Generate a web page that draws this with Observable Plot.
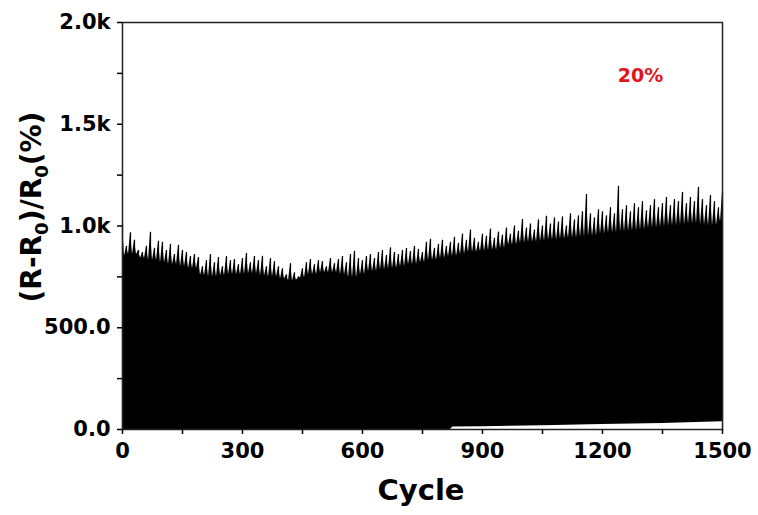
<!DOCTYPE html>
<html><head><meta charset="utf-8">
<script src="https://cdn.jsdelivr.net/npm/d3@7"></script>
<script src="https://cdn.jsdelivr.net/npm/@observablehq/plot@0.6"></script>
<style>body{margin:0;background:#fff} svg{display:block}</style>
</head><body><div id="chart"></div><script>
// Peak values of (R-R0)/R0 (%) every 10 cycles, from cycle 0 to 1500
const peakStep = 10;
const peakValues = [
  1010, 900, 967, 930, 880, 870, 900, 969, 890, 925, 920, 880, 910, 860, 905, 880, 870, 850, 860, 845,
  800, 830, 860, 820, 845, 800, 850, 830, 835, 810, 840, 865, 820, 850, 830, 851, 800, 840, 825, 800,
  790, 760, 815, 770, 750, 790, 820, 835, 810, 830, 825, 800, 840, 815, 835, 850, 820, 860, 876, 840,
  830, 850, 860, 840, 870, 880, 855, 893, 870, 860, 880, 890, 875, 900, 885, 870, 920, 935, 890, 910,
  930, 900, 920, 945, 915, 960, 930, 980, 940, 920, 960, 950, 985, 940, 970, 955, 990, 960, 1000, 975,
  1032, 990, 1010, 980, 1030, 1000, 1048, 1010, 1040, 1020, 1045, 1000, 1060, 1030, 1050, 1070, 1155, 1060, 1040, 1080,
  1070, 1050, 1090, 1060, 1195, 1080, 1100, 1070, 1110, 1090, 1120, 1075, 1100, 1130, 1090, 1110, 1140, 1100, 1130, 1120,
  1165, 1110, 1140, 1120, 1190, 1130, 1100, 1150, 1120, 1090, 1165
];
// Solid (dense) level every 25 cycles
const baseStep = 25;
const baseValues = [
  850, 860, 840, 830, 820, 810, 800, 790, 755, 750, 755, 760, 760, 765, 755, 750, 740, 730, 745, 760,
  770, 770, 760, 745, 760, 775, 785, 790, 800, 810, 820, 830, 840, 850, 860, 870, 875, 880, 890, 905,
  915, 920, 925, 930, 935, 940, 945, 950, 960, 965, 970, 975, 980, 990, 995, 1000, 1005, 1010, 1005, 1000, 1020
];
// Valley (minimum) level
const lowerCycles = [0, 820, 826, 900, 1050, 1200, 1350, 1500];
const lowerValues = [0, 0, 12, 14, 18, 25, 30, 38];
// Axes
const xTicks = [0, 300, 600, 900, 1200, 1500];
const xMinorTicks = [150, 450, 750, 1050, 1350];
const yTicks = [0, 500, 1000, 1500, 2000];
const yTickLabels = ["0.0", "500.0", "1.0k", "1.5k", "2.0k"];
const yMinorTicks = [250, 750, 1250, 1750];
const xTitle = "Cycle";
const annotation = "20%";

const peakRows = peakValues.map((v, i) => ({cycle: i * peakStep, value: v}));
const baseRows = baseValues.map((v, i) => ({cycle: i * baseStep, value: v}));
const lowerRows = lowerValues.map((v, i) => ({cycle: lowerCycles[i], value: v}));
// silhouette: each peak followed by a dip to the dense level read at that cycle
const edgeRows = [];
peakRows.forEach((r, i) => {
  edgeRows.push(r);
  if (i < peakRows.length - 1) {
    const c = r.cycle + peakStep / 2;
    edgeRows.push({cycle: c, value: baseValues[Math.round(c / baseStep)]});
  }
});

const font = "'DejaVu Sans', sans-serif";
const noLabel = () => "";
const chart = Plot.plot({
  width: 758, height: 515,
  marginLeft: 122, marginRight: 36, marginTop: 22, marginBottom: 86,
  style: {fontFamily: font, fontWeight: "bold", color: "black", background: "white"},
  x: {domain: [0, 1500]},
  y: {domain: [0, 2000]},
  marks: [
    Plot.areaY(baseRows, {x: "cycle", y: "value", fill: "black"}),
    Plot.areaY(edgeRows, {x: "cycle", y: "value", fill: "black"}),
    Plot.ruleX(peakRows, {x: "cycle", y1: 0, y2: "value", stroke: "black", strokeWidth: 1.2}),
    Plot.areaY(lowerRows, {x: "cycle", y: "value", fill: "white"}),
    Plot.frame({stroke: "#222", strokeWidth: 1.5}),
    Plot.axisY({ticks: yTicks, tickFormat: d => yTickLabels[yTicks.indexOf(d)], tickSize: 5, tickPadding: 7, fontSize: 21, label: null, strokeWidth: 1.5}),
    Plot.axisY({ticks: yMinorTicks, tickFormat: noLabel, tickSize: 5, label: null, strokeWidth: 1.5}),
    Plot.axisX({ticks: xTicks, tickFormat: d => String(d), tickSize: 5, tickPadding: 9, fontSize: 21, label: null, strokeWidth: 1.5}),
    Plot.axisX({ticks: xMinorTicks, tickFormat: noLabel, tickSize: 5, label: null, strokeWidth: 1.5}),
    Plot.text([annotation], {x: 1295, y: 1737, text: d => d, fill: "#e3141c", fontSize: 19, fontWeight: "bold"})
  ]
});
document.getElementById("chart").appendChild(chart);

const svg = d3.select(chart);
svg.append("text")
  .attr("x", 421).attr("y", 500)
  .attr("text-anchor", "middle")
  .attr("font-family", font).attr("font-weight", "bold").attr("font-size", 29)
  .attr("fill", "black")
  .text(xTitle);

const yl = svg.append("text")
  .attr("transform", "translate(41,207) rotate(-90)")
  .attr("text-anchor", "middle")
  .attr("font-family", font).attr("font-weight", "bold").attr("font-size", 28)
  .attr("fill", "black");
yl.append("tspan").text("(R-R");
yl.append("tspan").attr("dy", 7).attr("font-size", 18).text("0");
yl.append("tspan").attr("dy", -7).text(")/R");
yl.append("tspan").attr("dy", 7).attr("font-size", 18).text("0");
yl.append("tspan").attr("dy", -7).text("(%)");
</script></body></html>
